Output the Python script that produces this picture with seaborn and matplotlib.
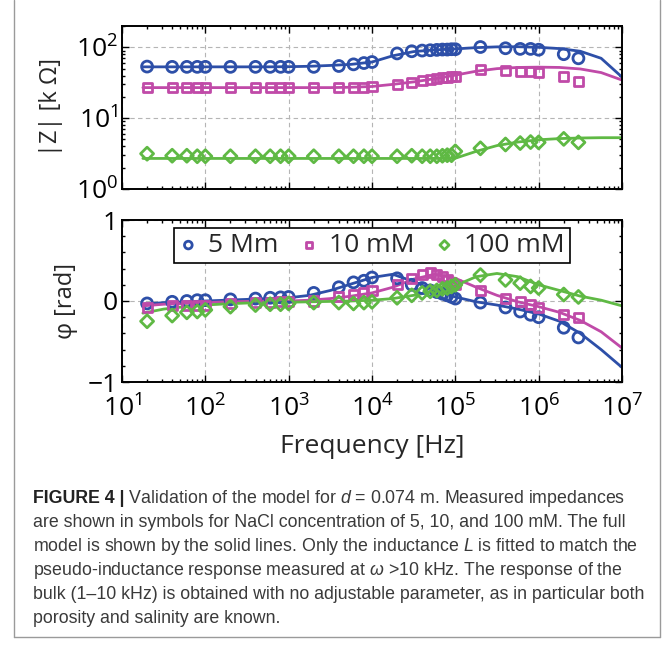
import numpy as np
import pandas as pd
import matplotlib
matplotlib.use("Agg")
import matplotlib.pyplot as plt
import seaborn as sns
from matplotlib.ticker import LogLocator, FixedLocator, MultipleLocator, NullFormatter
from matplotlib.lines import Line2D

# ---------------- data ----------------
series_names = ["5 Mm", "10 mM", "100 mM"]

freq = [20, 40, 60, 80, 100, 200, 400, 600, 800, 1e3, 2e3, 4e3, 6e3, 8e3, 1e4,
        2e4, 3e4, 4e4, 5e4, 6e4, 7e4, 8e4, 9e4, 1e5, 2e5, 4e5, 6e5, 8e5, 1e6, 2e6, 3e6]

z_5 = [53.5, 53, 53, 53, 53, 53, 53, 53, 53, 53, 53, 54.5, 57.5, 60, 62,
       82, 88, 90, 91, 92, 93, 93, 94, 94, 101, 97, 95, 95, 92.5, 80, 70]
z_10 = [27.5, 27, 27, 27, 27, 27, 27, 27, 27, 27, 27, 27, 27, 27.3, 27.8,
        30, 32, 33.8, 35, 36.3, 37.3, 38, 38.5, 39.3, 49, 47, 46, 45.2, 44, 39, 33]
z_100 = [3.15, 2.95, 2.95, 2.9, 2.9, 2.9, 2.9, 2.9, 2.9, 2.9, 2.9, 2.9, 2.9, 2.9, 2.9,
         2.9, 2.95, 2.9, 2.9, 2.9, 2.95, 3.0, 3.0, 3.4, 3.75, 4.25, 4.45, 4.6, 4.55, 5.1, 4.55]

phi_5 = [-0.03, -0.01, 0.0, 0.01, 0.01, 0.02, 0.03, 0.04, 0.045, 0.05, 0.1, 0.17, 0.23, 0.25, 0.29,
         0.28, 0.2, 0.16, 0.13, 0.11, 0.09, 0.07, 0.05, 0.03, -0.02, -0.08, -0.13, -0.17, -0.2, -0.33, -0.45]
phi_10 = [-0.08, -0.06, -0.06, -0.05, -0.05, -0.03, -0.02, -0.015, -0.01, -0.01, 0.0, 0.05, 0.08, 0.1, 0.13,
          0.2, 0.28, 0.33, 0.35, 0.33, 0.3, 0.27, 0.23, 0.2, 0.13, 0.03, -0.01, -0.04, -0.08, -0.17, -0.2]
phi_100 = [-0.25, -0.18, -0.14, -0.13, -0.11, -0.07, -0.05, -0.04, -0.04, -0.03, -0.02, -0.02, -0.03, -0.02, -0.01,
           0.04, 0.07, 0.1, 0.12, 0.13, 0.15, 0.16, 0.18, 0.2, 0.32, 0.26, 0.22, 0.18, 0.16, 0.08, 0.05]

# model curves (solid lines)
model_freq = [17.8, 31.6, 56.2, 100, 178, 316, 562, 1e3, 1.78e3, 3.16e3, 5.62e3, 1e4,
              1.78e4, 3.16e4, 5.62e4, 1e5, 1.78e5, 3.16e5, 5.62e5, 1e6, 1.78e6, 3.16e6, 5.62e6, 1e7]
model_z_5 = [53, 53, 53, 53, 53, 53, 53, 53.3, 54, 55.5, 57.5, 62,
             76, 87, 92, 95, 99, 101.5, 102, 100, 96, 88, 70, 38]
model_z_10 = [27, 27, 27, 27, 27, 27, 27, 27, 27, 27, 27.3, 28,
              30, 32.5, 36, 40.5, 46, 50, 52, 52.5, 52, 49.5, 44, 34.5]
model_z_100 = [2.7, 2.7, 2.7, 2.7, 2.7, 2.7, 2.7, 2.7, 2.7, 2.7, 2.7, 2.7,
               2.7, 2.7, 2.7, 2.72, 3.4, 4.1, 4.6, 4.95, 5.15, 5.25, 5.3, 5.3]
model_phi_5 = [-0.04, -0.02, -0.01, 0.0, 0.01, 0.02, 0.03, 0.04, 0.07, 0.13, 0.21, 0.29,
               0.33, 0.24, 0.13, 0.05, -0.01, -0.05, -0.1, -0.16, -0.25, -0.4, -0.6, -0.82]
model_phi_10 = [-0.06, -0.04, -0.03, -0.02, -0.01, -0.005, 0.0, 0.0, 0.01, 0.03, 0.06, 0.1,
                0.17, 0.27, 0.33, 0.28, 0.17, 0.07, -0.01, -0.07, -0.14, -0.24, -0.38, -0.58]
model_phi_100 = [-0.15, -0.1, -0.07, -0.05, -0.035, -0.025, -0.02, -0.015, -0.01, -0.005, 0.0, 0.01,
                 0.03, 0.07, 0.12, 0.19, 0.3, 0.34, 0.3, 0.2, 0.13, 0.06, 0.01, -0.06]

# ---------------- tables ----------------
pts = pd.DataFrame({
    "freq": freq * 3,
    "z": z_5 + z_10 + z_100,
    "phi": phi_5 + phi_10 + phi_100,
    "conc": sum([[n] * len(freq) for n in series_names], []),
})
mdl = pd.DataFrame({
    "freq": model_freq * 3,
    "z": model_z_5 + model_z_10 + model_z_100,
    "phi": model_phi_5 + model_phi_10 + model_phi_100,
    "conc": sum([[n] * len(model_freq) for n in series_names], []),
})

palette = {"5 Mm": "#2d4fa8", "10 mM": "#c04aa8", "100 mM": "#5fb944"}
markers = {"5 Mm": "o", "10 mM": "s", "100 mM": "D"}
msizes = {"5 Mm": 62, "10 mM": 42, "100 mM": 44}

# ---------------- style ----------------
sns.set_theme(style="ticks")
plt.rcParams["font.family"] = ["Open Sans", "DejaVu Sans"]
plt.rcParams["mathtext.fontset"] = "custom"
plt.rcParams["mathtext.rm"] = "Liberation Sans"
plt.rcParams["mathtext.it"] = "Liberation Sans:italic"
plt.rcParams["mathtext.bf"] = "Liberation Sans:bold"
plt.rcParams["axes.edgecolor"] = "black"
plt.rcParams["axes.linewidth"] = 1.4

FS = 19      # tick labels, x label, legend
FS_Y = 17    # y labels

fig = plt.figure(figsize=(6.72, 6.49), dpi=100)
W, H = 672, 649
ax1 = fig.add_axes([122 / W, 1 - 189 / H, 500 / W, 163 / H])
ax2 = fig.add_axes([122 / W, 1 - 382 / H, 500 / W, 162 / H])

grid_kw = dict(color="#b5b5b5", linestyle=(0, (4, 3)), linewidth=0.8)

for ax, col in ((ax1, "z"), (ax2, "phi")):
    ax.set_xscale("log")
    ax.grid(True, which="major", **grid_kw)
    ax.set_axisbelow(True)
    sns.lineplot(data=mdl, x="freq", y=col, hue="conc", palette=palette,
                 ax=ax, legend=False, linewidth=2.0, estimator=None, sort=True)
    for name in series_names:
        sub = pts[pts["conc"] == name]
        sns.scatterplot(data=sub, x="freq", y=col, ax=ax, marker=markers[name],
                        s=msizes[name], color=palette[name], facecolor="none",
                        edgecolor=palette[name], linewidth=2.0, zorder=3,
                        label=name, legend=False)
    ax.set_xlim(10, 1e7)
    ax.xaxis.set_major_locator(LogLocator(base=10, numticks=20))
    ax.xaxis.set_minor_locator(LogLocator(base=10, subs=np.arange(2, 10), numticks=100))
    ax.tick_params(which="both", direction="in", top=True, right=True,
                   bottom=True, left=True, colors="black", labelsize=FS, width=1.0)
    ax.tick_params(which="major", length=5)
    ax.tick_params(which="minor", length=2.5)
    ax.tick_params(axis="y", pad=3)
    ax.set_xlabel("")
    for s in ax.spines.values():
        s.set_visible(True)
        s.set_color("black")

# top panel
ax1.set_yscale("log")
ax1.set_ylim(1, 200)
ax1.yaxis.set_major_locator(FixedLocator([1, 10, 100]))
ax1.yaxis.set_minor_locator(LogLocator(base=10, subs=np.arange(2, 10), numticks=100))
ax1.yaxis.set_minor_formatter(NullFormatter())
ax1.xaxis.set_major_formatter(NullFormatter())
ax1.set_ylabel("|Z| [k Ω]", fontsize=FS_Y)
ax1.yaxis.set_label_coords(-0.118, 0.5)

# bottom panel
ax2.set_ylim(-1, 1)
ax2.yaxis.set_major_locator(FixedLocator([-1, 0, 1]))
ax2.yaxis.set_minor_locator(MultipleLocator(0.2))
ax2.tick_params(axis="x", which="major", pad=10)
ax2.set_ylabel("φ [rad]", fontsize=FS_Y)
ax2.yaxis.set_label_coords(-0.088, 0.5)
ax2.set_xlabel("Frequency [Hz]", fontsize=FS, labelpad=8)

handles = [h for h in ax2.collections if h.get_label() in series_names]
leg = ax2.legend(handles=handles, labels=[h.get_label() for h in handles],
                 loc="upper center", bbox_to_anchor=(0.5, 0.985), ncol=3,
                 fontsize=FS, frameon=True, fancybox=False, framealpha=1,
                 edgecolor="black", markerscale=0.7, handlelength=0.7,
                 handletextpad=0.4, columnspacing=0.8, borderpad=0.2,
                 borderaxespad=0.2)
leg.get_frame().set_linewidth(1.2)

# ---------------- frame and caption ----------------
frame_col = "#9a9a9a"
for xs, ys in (([14, 14], [0, 637]), ([660, 660], [0, 637]), ([14, 660], [637, 637])):
    fig.add_artist(Line2D([x / W for x in xs], [1 - y / H for y in ys],
                          transform=fig.transFigure, color=frame_col, linewidth=1.0))

cap_font = ["Liberation Sans", "DejaVu Sans"]
cap_size = 12.8
cap_color = "#3a3a3a"
x0 = 33 / W
baselines = [503, 527, 551, 575, 599, 623]
first_rest = " Validation of the model for $d$ = 0.074 m. Measured impedances"
lines = [
    "are shown in symbols for NaCl concentration of 5, 10, and 100 mM. The full",
    "model is shown by the solid lines. Only the inductance $L$ is fitted to match the",
    "pseudo-inductance response measured at $\\omega$ >10 kHz. The response of the",
    "bulk (1–10 kHz) is obtained with no adjustable parameter, as in particular both",
    "porosity and salinity are known.",
]
t_bold = fig.text(x0, 1 - baselines[0] / H, "FIGURE 4 |", family=cap_font,
                  weight="bold", fontsize=cap_size, color="#222222", va="baseline")
renderer = fig.canvas.get_renderer()
bb = t_bold.get_window_extent(renderer=renderer)
fig.text(bb.x1 / W, 1 - baselines[0] / H, first_rest, family=cap_font,
         fontsize=cap_size, color=cap_color, va="baseline")
for i, txt in enumerate(lines):
    fig.text(x0, 1 - baselines[i + 1] / H, txt, family=cap_font,
             fontsize=cap_size, color=cap_color, va="baseline")

fig.savefig("out.png", dpi=100)
